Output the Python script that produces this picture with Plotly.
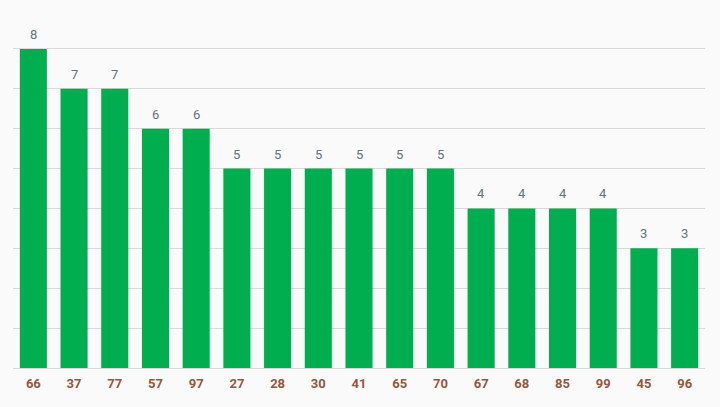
import plotly.graph_objects as go

categories = ["66", "37", "77", "57", "97", "27", "28", "30", "41", "65", "70", "67", "68", "85", "99", "45", "96"]
values = [8, 7, 7, 6, 6, 5, 5, 5, 5, 5, 5, 4, 4, 4, 4, 3, 3]

fig = go.Figure(go.Bar(
    x=categories, y=values,
    marker=dict(color="#00ae50", line=dict(width=0)),
))
for i, v in enumerate(values):
    fig.add_annotation(x=i, y=v, text=str(v), showarrow=False, yanchor="bottom", yshift=5,
                       font=dict(family="Roboto, sans-serif", size=13, color="#5d7286"))
fig.update_layout(
    width=720, height=407,
    margin=dict(l=13, r=15, t=9, b=39),
    paper_bgcolor="#fafafa", plot_bgcolor="#fafafa",
    bargap=0.335, showlegend=False,
    xaxis=dict(type="category", tickfont=dict(family="Roboto, sans-serif", size=13, color="#96573a", weight="bold"),
               showgrid=False, showline=False, ticks="", ticklabelstandoff=6),
    yaxis=dict(range=[0, 9], dtick=1, showticklabels=False, showgrid=True, gridcolor="#d9d9d9",
               gridwidth=1, zeroline=True, zerolinecolor="#d9d9d9", zerolinewidth=1),
)
fig.write_html("out.html")
